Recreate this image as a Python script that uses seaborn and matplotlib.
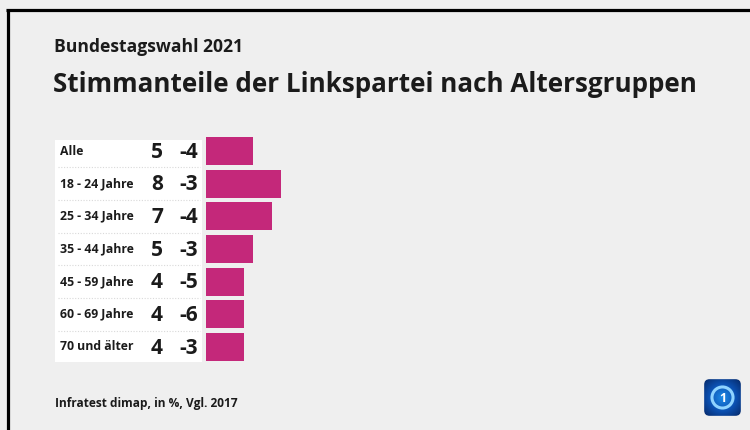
import matplotlib
matplotlib.use("Agg")
import matplotlib.pyplot as plt
import numpy as np
import pandas as pd
import seaborn as sns
from matplotlib.lines import Line2D
from matplotlib.patches import Rectangle, FancyBboxPatch, Circle
from matplotlib.transforms import blended_transform_factory

# Linke-Ergebnis nach Altersgruppen (in %) und Veränderung zu 2017 (Prozentpunkte)
age_groups = ["Alle", "18 - 24 Jahre", "25 - 34 Jahre", "35 - 44 Jahre",
              "45 - 59 Jahre", "60 - 69 Jahre", "70 und älter"]
share_2021 = [5, 8, 7, 5, 4, 4, 4]
change_vs_2017 = [-4, -3, -4, -3, -5, -6, -3]

supertitle = "Bundestagswahl 2021"
title = "Stimmanteile der Linkspartei nach Altersgruppen"
source = "Infratest dimap, in %, Vgl. 2017"

W, H = 750, 430
BG = "#efefef"
BAR = "#c4287a"
INK = "#1b1b1b"

sns.set_theme(style="white")
plt.rcParams["font.family"] = ["Open Sans", "DejaVu Sans"]

fig = plt.figure(figsize=(W / 100, H / 100), dpi=100, facecolor=BG)


def fx(px):
    return px / W


def fy(py):
    return 1 - py / H


# --- bar panel -------------------------------------------------------------
bar_left, bar_right = 206, 406
row_top, row_bottom = 134.7, 363.3
px_per_unit = 9.4

ax = fig.add_axes([fx(bar_left), fy(row_bottom),
                   fx(bar_right - bar_left), (row_bottom - row_top) / H])
ax.set_facecolor("none")
df = pd.DataFrame({"Altersgruppe": age_groups, "Anteil": share_2021})
sns.barplot(data=df, x="Anteil", y="Altersgruppe", orient="h", color=BAR,
            saturation=1, width=0.86, linewidth=0, edgecolor="none", ax=ax)
ax.set_xlim(0, (bar_right - bar_left) / px_per_unit)
ax.set_ylim(len(age_groups) - 0.5, -0.5)
ax.axis("off")

trans = blended_transform_factory(fig.transFigure, ax.transData)

# white label panel left of the bars
fig.add_artist(Rectangle((fx(55), fy(362)), fx(202 - 55), (362 - 140) / H,
                         transform=fig.transFigure, facecolor="white",
                         edgecolor="none", zorder=0))

for i, (grp, val, chg) in enumerate(zip(age_groups, share_2021, change_vs_2017)):
    ax.text(fx(60), i, grp, transform=trans, ha="left", va="center",
            fontsize=8.8, fontweight="bold", color=INK, clip_on=False)
    ax.text(fx(157), i + 0.04, f"{val}", transform=trans, ha="center", va="center",
            fontsize=15, fontweight="bold", color=INK, clip_on=False)
    ax.text(fx(189), i + 0.04, f"{chg}", transform=trans, ha="center", va="center",
            fontsize=15, fontweight="bold", color=INK, clip_on=False)
    if i < len(age_groups) - 1:
        ax.plot([fx(58), fx(200)], [i + 0.5, i + 0.5], transform=trans,
                color="#d9d9d9", lw=0.8, ls=(0, (1, 1.5)), clip_on=False)

# --- headings and source ---------------------------------------------------
fig.text(fx(54), fy(47), supertitle, ha="left", va="center",
         fontsize=12.6, fontweight="bold", color=INK)
fig.text(fx(53), fy(85), title, ha="left", va="center",
         fontsize=18.7, fontweight="bold", color=INK)
fig.text(fx(55), fy(404), source, ha="left", va="center",
         fontsize=8.6, fontweight="bold", color=INK)

# frame lines on the left and top edge
fig.add_artist(Line2D([fx(7.5), fx(7.5)], [0, fy(8.5)], color="black",
                      lw=2.3, transform=fig.transFigure, solid_capstyle="butt"))
fig.add_artist(Line2D([fx(6.4), 1], [fy(10), fy(10)], color="black",
                      lw=2.3, transform=fig.transFigure, solid_capstyle="butt"))

# --- channel logo ----------------------------------------------------------
lax = fig.add_axes([fx(703), fy(417), fx(39), 39 / H])
lax.set_xlim(0, 1)
lax.set_ylim(0, 1)
lax.axis("off")
box = FancyBboxPatch((0.03, 0.03), 0.94, 0.94,
                     boxstyle="round,pad=0,rounding_size=0.14",
                     facecolor="none", edgecolor="none")
lax.add_patch(box)
yy, xx = np.mgrid[0:1:100j, 0:1:100j]
rr = np.hypot(xx - 0.5, yy - 0.5)
grad = np.clip(1 - rr / 0.72, 0, 1)
cmap = matplotlib.colors.LinearSegmentedColormap.from_list(
    "logo", ["#06245e", "#0b4fb0", "#1e8ae6"])
img = lax.imshow(grad, extent=(0, 1, 0, 1), origin="lower", cmap=cmap,
                 interpolation="bilinear", zorder=1)
img.set_clip_path(box)
lax.add_patch(Circle((0.5, 0.5), 0.27, facecolor="none",
                     edgecolor="#8fd3ff", lw=2.2, zorder=2))
lax.text(0.5, 0.48, "1", ha="center", va="center", fontsize=9,
         fontweight="bold", color="white", zorder=3)

fig.savefig("out.png", dpi=100, facecolor=BG)
